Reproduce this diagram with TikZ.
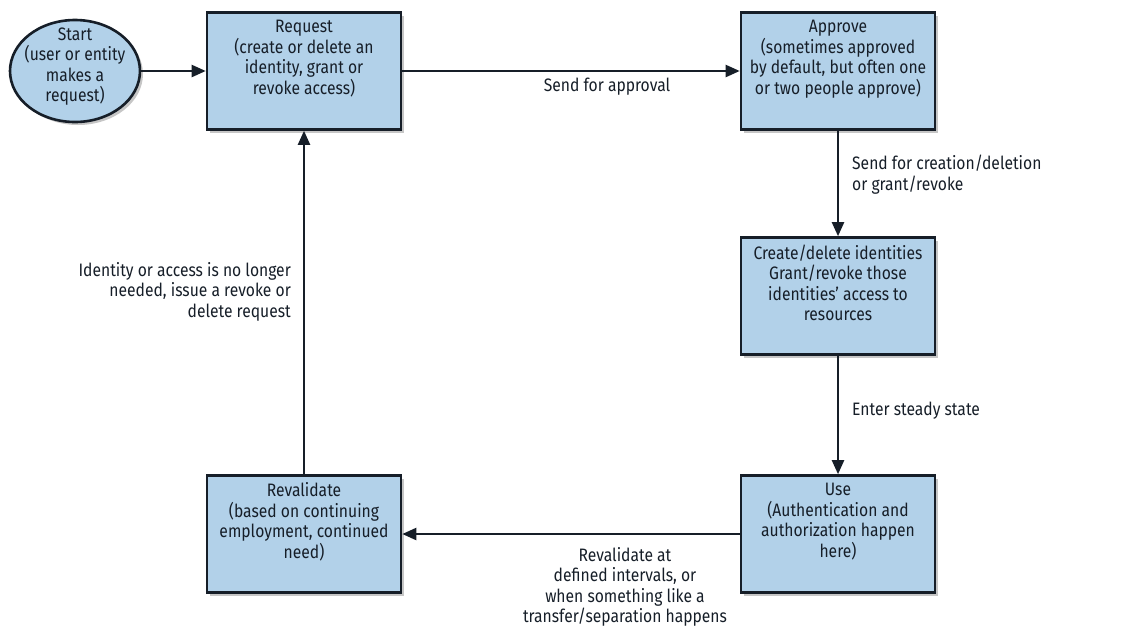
\documentclass[tikz,border=0pt]{standalone}
\usepackage{fontspec}
\setmainfont{Fira Sans}[FakeStretch=0.87]
\usetikzlibrary{shapes.geometric,arrows.meta,shadows}
\definecolor{boxblue}{RGB}{178,209,233}
\definecolor{inkdark}{RGB}{22,30,40}
\tikzset{
  stage/.style={draw=inkdark, line width=2.6pt, fill=boxblue, minimum width=194pt, minimum height=117pt,
    inner sep=0pt, align=center, text=inkdark, font=\fontsize{18}{20.5}\selectfont, text depth=27pt,
    drop shadow={shadow xshift=3pt, shadow yshift=-3pt, opacity=0.45}},
  startnode/.style={stage, ellipse, inner sep=-20pt, text depth=13pt, minimum width=130pt, minimum height=102pt},
  flow/.style={line width=2.2pt, draw=inkdark, -{Triangle[length=14pt,width=12pt]}},
  note/.style={inner sep=0pt, text=inkdark, font=\fontsize{18}{20.5}\selectfont}
}
\begin{document}
\begin{tikzpicture}[x=1pt,y=-1pt]
\useasboundingbox (0,0) rectangle (1131,630);
\node[startnode] (start) at (75,71) {Start\\(user or entity\\makes a\\request)};
\node[stage] (request) at (304,71) {Request\\(create or delete an\\identity, grant or\\revoke access)};
\node[stage] (approve) at (838,71) {Approve\\(sometimes approved\\by default, but often one\\or two people approve)};
\node[stage] (create) at (838,296) {Create/delete identities\\Grant/revoke those\\identities' access to\\resources};
\node[stage] (use) at (838,534) {Use\\(Authentication and\\authorization happen\\here)};
\node[stage] (revalidate) at (304,534) {Revalidate\\(based on continuing\\employment, continued\\need)};
% connectors
\draw[flow] (start) -- (request);
\draw[flow] (request) -- (approve);
\draw[flow] (approve) -- (create);
\draw[flow] (create) -- (use);
\draw[flow] (use) -- (revalidate);
\draw[flow] (revalidate) -- (request);
% labels
\node[note, anchor=north] (lapprove) at (607,78) {Send for approval};
\node[note, anchor=north west, align=left] (lcreate) at (852,155) {Send for creation/deletion\\or grant/revoke};
\node[note, anchor=north west] (lsteady) at (852,402) {Enter steady state};
\node[note, anchor=north, align=center] (lrevalidate) at (625,547) {Revalidate at\\defined intervals, or\\when something like a\\transfer/separation happens};
\node[note, anchor=north east, align=right] (lrevoke) at (291,262) {Identity or access is no longer\\needed, issue a revoke or\\delete request};
\end{tikzpicture}
\end{document}
